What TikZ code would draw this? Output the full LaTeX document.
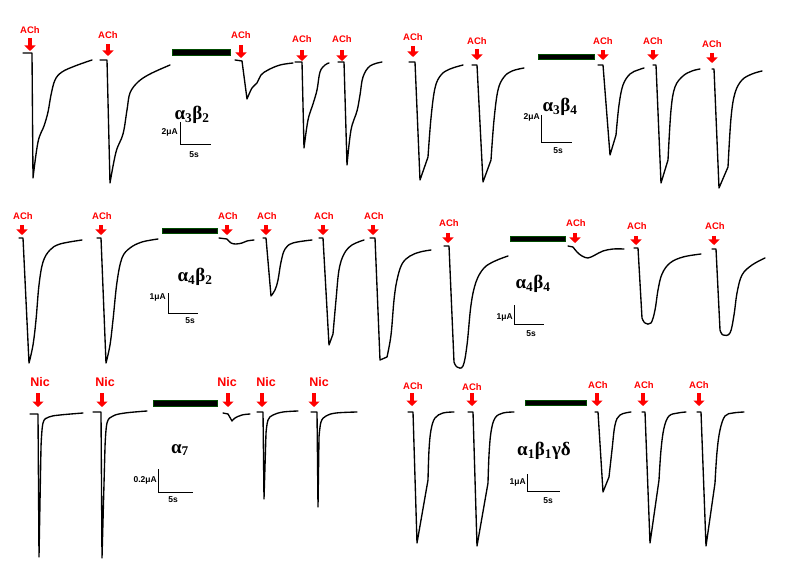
\documentclass[tikz,border=0pt]{standalone}
\usepackage{fontspec}
\setsansfont{Liberation Sans}
\newfontfamily\greekfont{Liberation Serif}
\usetikzlibrary{arrows.meta}
\tikzset{
  trace/.style={line width=1.35pt, line join=round, line cap=round},
  puff/.style={draw=red, line width=3.8pt, -{Triangle[length=5.5pt,width=11pt]}},
  drug/.style={text=red, inner sep=0pt, font=\sffamily\bfseries\fontsize{9.5}{10}\selectfont},
  nic/.style={text=red, inner sep=0pt, font=\sffamily\bfseries\fontsize{12.5}{13}\selectfont},
  blocker/.style={fill=black, draw=green!30!black, line width=0.3pt},
  scalebar/.style={line width=1pt},
  scalelabel/.style={inner sep=0pt, font=\sffamily\bfseries\fontsize{8.5}{9}\selectfont},
  subunit/.style={inner sep=0pt, font=\greekfont\bfseries\fontsize{19}{19}\selectfont}
}
\begin{document}
\begin{tikzpicture}[x=1pt,y=-1pt]
  \useasboundingbox[fill=white] (0,0) rectangle (792,569);

  % alpha3 beta2
  \foreach \x/\yl/\yt/\yb [count=\i] in {30/30/38/51, 108/35/44/56, 241/35/45/58, 302/39/50/61, 342/39/50/61}
    {\node[drug] (achA\i) at (\x,\yl) {ACh};
     \draw[puff] (\x,\yt) -- (\x,\yb);}
  \draw[trace] (23,53) -- (32,53) -- (33,178) plot[smooth,tension=0.6] coordinates {(33,178) (38,142) (44,126) (48,112) (51,95) (55,80) (62,72) (75,66) (92,60)};
  \draw[trace] (100,60) -- (107,60) -- (110,183) plot[smooth,tension=0.6] coordinates {(110,183) (116,152) (123,134) (127,110) (130,93) (138,82) (150,74) (170,65)};
  \draw[trace] (235,60) -- (242,61) -- (247,99) plot[smooth,tension=0.6] coordinates {(247,99) (252,88) (257,83) (261,75) (268,70) (280,65) (293,63)};
  \draw[trace] (295,62) -- (302,62) -- (304,148) plot[smooth,tension=0.6] coordinates {(304,148) (308,120) (313,104) (317,90) (320,72) (325,65) (329,63)};
  \draw[trace] (338,62) -- (344,62) -- (347,165) plot[smooth,tension=0.6] coordinates {(347,165) (351,130) (357,111) (360,95) (363,77) (370,66) (382,62)};
  \draw[blocker] (172,49) rectangle (230,55);
  \node[subunit] (a3b2) at (192,115) {α\textsubscript{3}β\textsubscript{2}};
  \draw[scalebar] (180,122) |- (211,145);
  \node[scalelabel, anchor=east] (ia3b2) at (178,132) {2μA};
  \node[scalelabel] (ta3b2) at (194,155) {5s};

  % alpha3 beta4
  \foreach \x/\yl/\yt/\yb [count=\i] in {413/37/46/57, 477/41/49/60, 603/41/50/60, 653/41/50/60, 712/44/53/63}
    {\node[drug] (achB\i) at (\x,\yl) {ACh};
     \draw[puff] (\x,\yt) -- (\x,\yb);}
  \draw[trace] (409,62) -- (415,62) -- (420,180) -- (428,157) plot[smooth,tension=0.6] coordinates {(428,157) (431,118) (435,88) (441,75) (450,69) (463,65)};
  \draw[trace] (472,65) -- (477,65) -- (483,182) -- (491,160) plot[smooth,tension=0.6] coordinates {(491,160) (494,120) (498,90) (504,77) (512,71) (524,68)};
  \draw[trace] (598,65) -- (603,65) -- (610,155) -- (616,135) plot[smooth,tension=0.6] coordinates {(616,135) (619,105) (623,85) (630,74) (638,70) (644,68)};
  \draw[trace] (653,65) -- (656,65) -- (661,183) -- (668,160) plot[smooth,tension=0.6] coordinates {(668,160) (671,110) (675,87) (683,76) (692,71) (700,69)};
  \draw[trace] (712,69) -- (714,69) -- (719,188) -- (728,167) plot[smooth,tension=0.6] coordinates {(728,167) (731,118) (735,93) (742,80) (752,74) (762,71)};
  \draw[blocker] (538,54) rectangle (594,59);
  \node[subunit] (a3b4) at (560,107) {α\textsubscript{3}β\textsubscript{4}};
  \draw[scalebar] (541,115) |- (572,143);
  \node[scalelabel, anchor=east] (ia3b4) at (540,117) {2μA};
  \node[scalelabel] (ta3b4) at (558,151) {5s};

  % alpha4 beta2
  \foreach \x [count=\i] in {22, 101, 227, 266, 323, 373}
    {\node[drug] (achC\i) at (\x+1,216) {ACh};
     \draw[puff] (\x,225) -- (\x,235);}
  \draw[trace] (19,238) -- (23,238) -- (29,363) plot[smooth,tension=0.6] coordinates {(29,363) (33,345) (36,320) (39,285) (43,262) (50,250) (60,244) (82,240)};
  \draw[trace] (97,238) -- (101,238) -- (106,363) plot[smooth,tension=0.6] coordinates {(106,363) (110,345) (113,320) (117,282) (122,258) (130,248) (142,242) (158,239)};
  \draw[trace] (219,238) -- (227,239) plot[smooth,tension=0.6] coordinates {(227,239) (231,243) (236,244) (242,243) (247,241) (254,240)};
  \draw[trace] (263,238) -- (266,238) -- (271,296) plot[smooth,tension=0.6] coordinates {(271,296) (275,290) (278,280) (281,262) (285,249) (293,243) (312,240)};
  \draw[trace] (319,238) -- (323,238) -- (329,345) -- (333,334) plot[smooth,tension=0.6] coordinates {(333,334) (336,300) (339,270) (344,254) (352,245) (364,240)};
  \draw[trace] (370,238) -- (375,238) -- (380,360) -- (387,357) plot[smooth,tension=0.6] coordinates {(387,357) (391,335) (394,300) (397,280) (402,264) (410,256) (420,252) (431,250)};
  \draw[blocker] (162,228) rectangle (217,233);
  \node[subunit] (a4b2) at (195,277) {α\textsubscript{4}β\textsubscript{2}};
  \draw[scalebar] (168,293) |- (198,313);
  \node[scalelabel, anchor=east] (ia4b2) at (166,297) {1μA};
  \node[scalelabel] (ta4b2) at (190,321) {5s};

  % alpha4 beta4
  \foreach \x/\yl/\yt/\yb [count=\i] in {448/223/233/243, 575/223/233/243, 636/226/236/245, 714/226/236/245}
    {\node[drug] (achD\i) at (\x+1,\yl) {ACh};
     \draw[puff] (\x,\yt) -- (\x,\yb);}
  \draw[trace] (444,246) -- (449,246) -- (454,362) plot[smooth,tension=0.6] coordinates {(454,362) (457,367) (463,366) (467,345) (471,305) (476,282) (484,268) (495,261) (508,256)};
  \draw[trace] (568,246) -- (573,247) plot[smooth,tension=0.6] coordinates {(573,247) (577,252) (582,256) (588,258) (595,255) (603,251) (613,249) (624,249)};
  \draw[trace] (634,248) -- (638,248) -- (642,318) plot[smooth,tension=0.6] coordinates {(642,318) (645,323) (651,323) (655,310) (658,290) (662,274) (670,263) (683,257) (701,254)};
  \draw[trace] (712,249) -- (716,249) -- (720,330) plot[smooth,tension=0.6] coordinates {(720,330) (723,335) (730,333) (734,315) (737,293) (742,275) (752,265) (765,258)};
  \draw[blocker] (510,236) rectangle (565,241);
  \node[subunit] (a4b4) at (533,284) {α\textsubscript{4}β\textsubscript{4}};
  \draw[scalebar] (514,305) |- (544,324);
  \node[scalelabel, anchor=east] (ia4b4) at (513,317) {1μA};
  \node[scalelabel] (ta4b4) at (531,334) {5s};

  % alpha7
  \foreach \x/\xl [count=\i] in {38/40, 102/105, 228/227, 262/266, 314/319}
    {\node[nic] (nicE\i) at (\xl,382) {Nic};
     \draw[puff] (\x,393) -- (\x,407);}
  \draw[trace] (30,414) -- (38,414) -- (39,557) -- (41,447) plot[smooth,tension=0.6] coordinates {(41,447) (43,423) (49,417) (60,415) (83,413)};
  \draw[trace] (93,412) -- (101,412) -- (102,558) -- (105,447) plot[smooth,tension=0.6] coordinates {(105,447) (107,423) (113,416) (125,413) (147,411)};
  \draw[trace] (223,413) -- (228,414) -- (232,421) plot[smooth,tension=0.6] coordinates {(232,421) (235,418) (242,415) (250,414)};
  \draw[trace] (257,412) -- (263,412) -- (264,499) -- (266,433) plot[smooth,tension=0.6] coordinates {(266,433) (268,420) (273,415) (283,412) (298,411)};
  \draw[trace] (311,412) -- (317,412) -- (318,507) -- (319,437) plot[smooth,tension=0.6] coordinates {(319,437) (321,422) (326,416) (336,413) (357,412)};
  \draw[blocker] (153,400) rectangle (217,406);
  \node[subunit] (a7) at (180,450) {α\textsubscript{7}};
  \draw[scalebar] (158,469) |- (193,492);
  \node[scalelabel, anchor=east] (ia7) at (157,480) {0.2μA};
  \node[scalelabel] (ta7) at (173,500) {5s};

  % alpha1 beta1 gamma delta
  \foreach \x/\xl/\yl [count=\i] in {412/413/386, 472/472/387, 597/598/385, 643/644/385, 699/699/385}
    {\node[drug] (achF\i) at (\xl,\yl) {ACh};
     \draw[puff] (\x,393) -- (\x,406);}
  \draw[trace] (408,412) -- (413,412) -- (417,543) -- (428,480) plot[smooth,tension=0.6] coordinates {(428,480) (429,450) (431,430) (435,418) (443,413) (454,412)};
  \draw[trace] (468,412) -- (473,412) -- (477,546) -- (488,483) plot[smooth,tension=0.6] coordinates {(488,483) (489,455) (491,432) (495,418) (503,413) (514,412)};
  \draw[trace] (595,412) -- (598,412) -- (603,492) -- (609,477) plot[smooth,tension=0.6] coordinates {(609,477) (612,450) (615,425) (620,415) (631,412)};
  \draw[trace] (642,412) -- (645,412) -- (650,543) -- (659,480) plot[smooth,tension=0.6] coordinates {(659,480) (661,450) (664,428) (669,416) (678,413) (686,412)};
  \draw[trace] (697,412) -- (701,412) -- (706,546) -- (715,483) plot[smooth,tension=0.6] coordinates {(715,483) (717,452) (720,430) (725,416) (733,413) (744,412)};
  \draw[blocker] (525,400) rectangle (586,405);
  \node[subunit] (a1b1gd) at (544,451) {α\textsubscript{1}β\textsubscript{1}γδ};
  \draw[scalebar] (527,474) |- (560,491);
  \node[scalelabel, anchor=east] (ia1b1gd) at (526,482) {1μA};
  \node[scalelabel] (ta1b1gd) at (548,501) {5s};
\end{tikzpicture}
\end{document}
